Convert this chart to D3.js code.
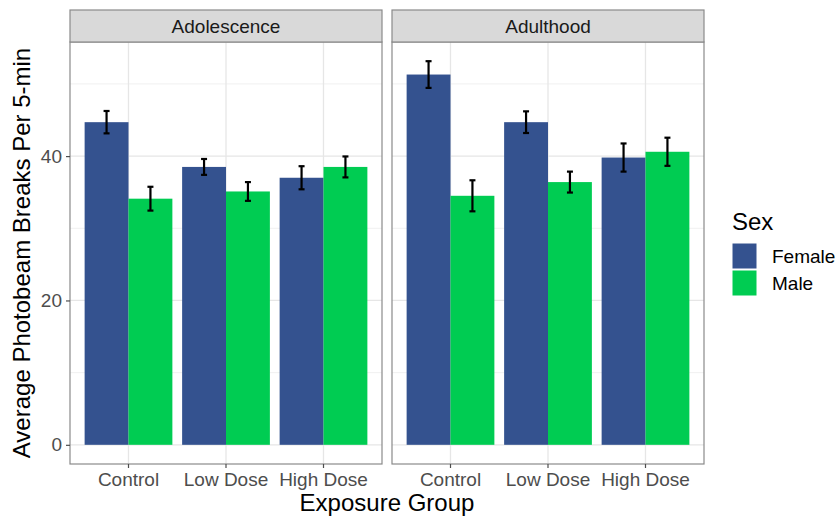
<!DOCTYPE html>
<html>
<head>
<meta charset="utf-8">
<script src="https://cdn.jsdelivr.net/npm/d3@7"></script>
<style>
  body { margin: 0; background: #fff; }
  svg { display: block; font-family: "Liberation Sans", Arial, Helvetica, sans-serif; }
</style>
</head>
<body>
<div id="chart"></div>
<script>
// Exposure / sex bar chart, faceted by life stage
const stages = ["Adolescence", "Adulthood"];
const groups = ["Control", "Low Dose", "High Dose"];
const sexes = ["Female", "Male"];

const adolescenceFemale = [44.7, 38.5, 37.0];
const adolescenceMale = [34.1, 35.1, 38.5];
const adulthoodFemale = [51.3, 44.7, 39.8];
const adulthoodMale = [34.5, 36.4, 40.6];

const adolescenceFemaleSE = [1.55, 1.1, 1.6];
const adolescenceMaleSE = [1.65, 1.3, 1.45];
const adulthoodFemaleSE = [1.85, 1.5, 1.95];
const adulthoodMaleSE = [2.15, 1.45, 1.95];

const yTicks = [0, 20, 40];
const yMinor = [10, 30, 50];

const colors = {Female: "#34528f", Male: "#00cc52"};

const W = 838, H = 518;
const panelTop = 42, panelBottom = 464, stripTop = 10;
const panelLefts = [70, 392];
const panelW = 312;
const smallFont = 19, bigFont = 24;

// flatten the arrays into rows
const meansBy = {Adolescence: {Female: adolescenceFemale, Male: adolescenceMale},
                 Adulthood: {Female: adulthoodFemale, Male: adulthoodMale}};
const seBy = {Adolescence: {Female: adolescenceFemaleSE, Male: adolescenceMaleSE},
              Adulthood: {Female: adulthoodFemaleSE, Male: adulthoodMaleSE}};
const rows = [];
stages.forEach(st => sexes.forEach(sx => groups.forEach((g, i) => {
    rows.push({stage: st, sex: sx, group: g, mean: meansBy[st][sx][i], se: seBy[st][sx][i]});
})));

const svg = d3.select("#chart").append("svg").attr("width", W).attr("height", H);
svg.append("rect").attr("width", W).attr("height", H).attr("fill", "#fff");

// y scale with ggplot-like 5% expansion
const yMax = d3.max(rows, d => d.mean + d.se);
const pad = yMax * 0.05;
const y = d3.scaleLinear().domain([-pad, yMax + pad]).range([panelBottom, panelTop]);

const x = d3.scaleBand().domain(groups).range([0, panelW]).paddingInner(0).paddingOuter(0.1);
const step = x.step();
const xSex = d3.scaleBand().domain(sexes).range([0.05 * step, 0.95 * step]);
const capHalf = 3;

stages.forEach((st, pi) => {
    const g = svg.append("g").attr("transform", `translate(${panelLefts[pi]},0)`);
    const data = rows.filter(d => d.stage === st);

    // grid
    g.selectAll(".minor").data(yMinor).enter().append("line")
        .attr("x1", 0).attr("x2", panelW)
        .attr("y1", d => y(d)).attr("y2", d => y(d))
        .attr("stroke", "#ececec").attr("stroke-width", 0.8);
    g.selectAll(".major").data(yTicks).enter().append("line")
        .attr("x1", 0).attr("x2", panelW)
        .attr("y1", d => y(d)).attr("y2", d => y(d))
        .attr("stroke", "#e6e6e6").attr("stroke-width", 1.3);
    g.selectAll(".vmajor").data(groups).enter().append("line")
        .attr("x1", d => x(d) + step / 2).attr("x2", d => x(d) + step / 2)
        .attr("y1", panelTop).attr("y2", panelBottom)
        .attr("stroke", "#e6e6e6").attr("stroke-width", 1.3);

    // bars
    g.selectAll(".bar").data(data).enter().append("rect")
        .attr("x", d => x(d.group) + xSex(d.sex))
        .attr("width", xSex.bandwidth())
        .attr("y", d => y(d.mean))
        .attr("height", d => y(0) - y(d.mean))
        .attr("fill", d => colors[d.sex]);

    // error bars
    const eb = g.selectAll(".eb").data(data).enter().append("g")
        .attr("stroke", "#000").attr("stroke-width", 2.2);
    const cx = d => x(d.group) + xSex(d.sex) + xSex.bandwidth() / 2;
    eb.append("line").attr("x1", cx).attr("x2", cx)
        .attr("y1", d => y(d.mean + d.se)).attr("y2", d => y(d.mean - d.se));
    eb.append("line").attr("x1", d => cx(d) - capHalf).attr("x2", d => cx(d) + capHalf)
        .attr("y1", d => y(d.mean + d.se)).attr("y2", d => y(d.mean + d.se));
    eb.append("line").attr("x1", d => cx(d) - capHalf).attr("x2", d => cx(d) + capHalf)
        .attr("y1", d => y(d.mean - d.se)).attr("y2", d => y(d.mean - d.se));

    // panel border
    g.append("rect").attr("x", 0).attr("y", panelTop).attr("width", panelW)
        .attr("height", panelBottom - panelTop)
        .attr("fill", "none").attr("stroke", "#8a8a8a").attr("stroke-width", 1.2);

    // strip
    g.append("rect").attr("x", 0).attr("y", stripTop).attr("width", panelW)
        .attr("height", panelTop - stripTop)
        .attr("fill", "#d9d9d9").attr("stroke", "#8a8a8a").attr("stroke-width", 1.2);
    g.append("text").attr("x", panelW / 2).attr("y", (stripTop + panelTop) / 2)
        .attr("dy", "0.35em").attr("text-anchor", "middle")
        .attr("font-size", smallFont).attr("fill", "#1a1a1a").text(st);

    // x axis
    const xa = g.append("g").attr("transform", `translate(0,${panelBottom})`)
        .call(d3.axisBottom(x).tickSize(4).tickPadding(5));
    xa.select(".domain").remove();
    xa.selectAll(".tick line").attr("stroke", "#4d4d4d").attr("stroke-width", 1.2);
    xa.selectAll(".tick text").attr("font-size", smallFont).attr("fill", "#4d4d4d")
        .attr("font-family", null);

    if (pi === 0) {
        const ya = g.append("g").call(d3.axisLeft(y).tickValues(yTicks).tickSize(4).tickPadding(4));
        ya.select(".domain").remove();
        ya.selectAll(".tick line").attr("stroke", "#4d4d4d").attr("stroke-width", 1.2);
        ya.selectAll(".tick text").attr("font-size", smallFont).attr("fill", "#4d4d4d")
            .attr("font-family", null);
    }
});

// axis titles
svg.append("text").attr("x", (panelLefts[0] + panelLefts[1] + panelW) / 2).attr("y", 511)
    .attr("text-anchor", "middle").attr("font-size", bigFont).attr("fill", "#000")
    .text("Exposure Group");
svg.append("text")
    .attr("transform", `translate(30,${(panelTop + panelBottom) / 2}) rotate(-90)`)
    .attr("text-anchor", "middle").attr("font-size", bigFont).attr("fill", "#000")
    .text("Average Photobeam Breaks Per 5-min");

// legend
const lg = svg.append("g").attr("transform", "translate(732,0)");
lg.append("text").attr("x", 0).attr("y", 230).attr("font-size", bigFont).attr("fill", "#000").text("Sex");
const items = lg.selectAll(".item").data(sexes).enter().append("g")
    .attr("transform", (d, i) => `translate(0,${243 + i * 27})`);
items.append("rect").attr("width", 25).attr("height", 26).attr("fill", d => colors[d])
    .attr("stroke", "#fff").attr("stroke-width", 1);
items.append("text").attr("x", 40).attr("y", 13).attr("dy", "0.35em")
    .attr("font-size", smallFont).attr("fill", "#000").text(d => d);
</script>
</body>
</html>
